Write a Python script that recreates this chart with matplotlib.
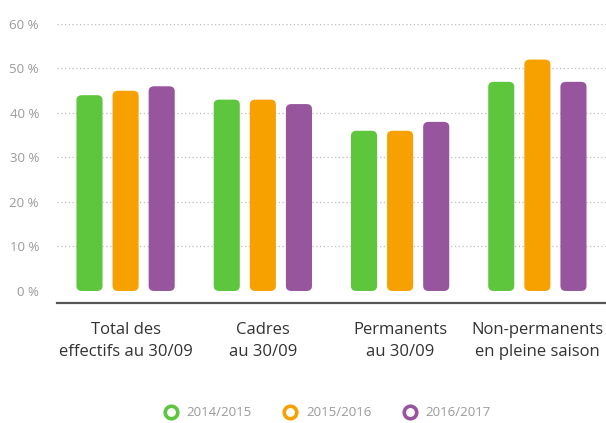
import numpy as np
import matplotlib.pyplot as plt
from matplotlib.patches import FancyBboxPatch
from matplotlib.lines import Line2D

plt.rcParams['font.family'] = ['Open Sans', 'DejaVu Sans']

# data
categories = ['Total des\neffectifs au 30/09', 'Cadres\nau 30/09',
              'Permanents\nau 30/09', 'Non-permanents\nen pleine saison']
seasons = ['2014/2015', '2015/2016', '2016/2017']
v2014 = [44, 43, 36, 47]
v2015 = [45, 43, 36, 52]
v2016 = [46, 42, 38, 47]
colors = ['#5dc63d', '#f7a100', '#97559e']

fig = plt.figure(figsize=(6.06, 4.23), dpi=100)
ax = fig.add_axes([0.094, 0.2837, 0.906, 0.6596])

x = np.arange(len(categories))
width = 0.19
offset = 0.263

for i, vals in enumerate([v2014, v2015, v2016]):
    bars = ax.bar(x + (i - 1) * offset, vals, width, color='none')
    for b in bars:
        # swap the plain bar for a rounded one of the same size
        p = FancyBboxPatch((b.get_x(), 0), b.get_width(), b.get_height(),
                           boxstyle='round,pad=0,rounding_size=0.04',
                           mutation_aspect=28, facecolor=colors[i],
                           edgecolor='none')
        ax.add_patch(p)

ax.set_xlim(-0.5, 3.5)
ax.set_ylim(-2.7, 60)
ax.set_yticks(range(0, 70, 10))
ax.set_yticklabels([f'{t} %' for t in range(0, 70, 10)])
for t in range(10, 70, 10):
    ax.axhline(t, color='#bdbdbd', lw=0.9, ls=(0, (1, 2)), zorder=0)

ax.set_xticks(x)
ax.set_xticklabels(categories, fontsize=12, color='#333333', linespacing=1.45)
ax.tick_params(axis='x', length=0, pad=14)
ax.tick_params(axis='y', length=0, pad=13, labelsize=9.5, labelcolor='#9a9a9a')

for s in ['top', 'right', 'left']:
    ax.spines[s].set_visible(False)
ax.spines['bottom'].set_color('#555555')
ax.spines['bottom'].set_linewidth(1.6)

handles = [Line2D([], [], ls='none', marker='o', markersize=9,
                  markerfacecolor='white', markeredgecolor=c,
                  markeredgewidth=2.6) for c in colors]
fig.legend(handles, seasons, loc='center', bbox_to_anchor=(0.535, 0.024),
           ncol=3, frameon=False, fontsize=9.5, labelcolor='#9a9a9a',
           handletextpad=0.2, columnspacing=1.9)

plt.savefig('out.png')
